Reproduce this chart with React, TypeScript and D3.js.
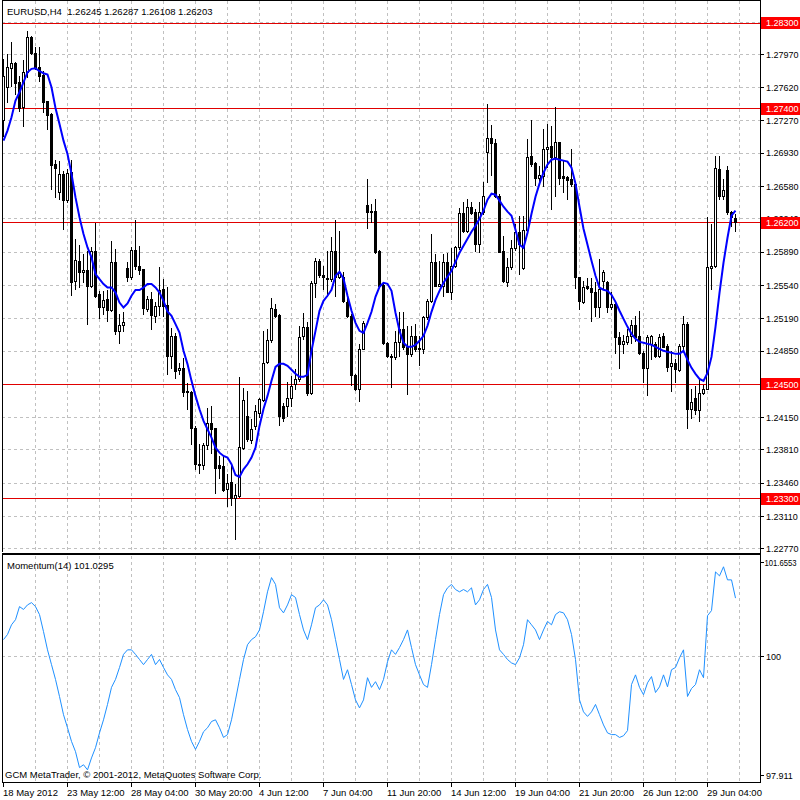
import React from 'react';
import * as d3 from 'd3';

const opens = [
  1.27284, 1.27624, 1.27828, 1.27877, 1.27684, 1.27414, 1.27789, 1.28151, 1.27986, 1.27835,
  1.27754, 1.27477, 1.27344, 1.26817, 1.26519, 1.26712, 1.26438, 1.26730, 1.25589, 1.25800,
  1.25677, 1.25701, 1.25537, 1.25905, 1.25449, 1.25309, 1.25396, 1.25280, 1.25789, 1.25063,
  1.25126, 1.25722, 1.25631, 1.25912, 1.25747, 1.25712, 1.25291, 1.25403, 1.25221, 1.25319,
  1.25501, 1.25337, 1.24800, 1.25010, 1.24649, 1.24677, 1.24431, 1.24421, 1.24045, 1.23666,
  1.23649, 1.23863, 1.24098, 1.24038, 1.23649, 1.23642, 1.23396, 1.23473, 1.23309, 1.23326,
  1.23835, 1.24165, 1.23912, 1.24063, 1.24200, 1.24337, 1.24737, 1.24965, 1.25291, 1.25228,
  1.24274, 1.24274, 1.24362, 1.24502, 1.24555, 1.25011, 1.25105, 1.24414, 1.25565, 1.25793,
  1.25653, 1.25614, 1.25607, 1.25905, 1.25625, 1.25625, 1.25369, 1.25221, 1.24597, 1.24449,
  1.24877, 1.26390, 1.26327, 1.26327, 1.25905, 1.25544, 1.24934, 1.24800, 1.24783, 1.24941,
  1.25081, 1.24888, 1.24818, 1.25011, 1.24881, 1.24870, 1.25204, 1.25372, 1.25790, 1.25537,
  1.25537, 1.25790, 1.25474, 1.25748, 1.25941, 1.26302, 1.26116, 1.26369, 1.26316, 1.25976,
  1.26309, 1.26941, 1.27091, 1.27039, 1.26484, 1.25905, 1.25572, 1.25730, 1.25930, 1.26105,
  1.25720, 1.26123, 1.26905, 1.26828, 1.26667, 1.26695, 1.26976, 1.27011, 1.26888, 1.27046,
  1.26688, 1.26684, 1.26660, 1.26607, 1.25625, 1.25362, 1.25537, 1.25509, 1.25467, 1.25309,
  1.25590, 1.25572, 1.25309, 1.25344, 1.24993, 1.24923, 1.24941, 1.25011, 1.25123, 1.25011,
  1.24835, 1.24667, 1.24923, 1.24923, 1.24800, 1.25011, 1.24905, 1.24695, 1.24730, 1.24653,
  1.24905, 1.25134, 1.24246, 1.24362, 1.24232, 1.24407, 1.24456, 1.25720, 1.25748, 1.26765,
  1.26484, 1.26758, 1.26309, 1.26245,
];

const highs = [
  1.27923, 1.27975, 1.28098, 1.27887, 1.27747, 1.27916, 1.28221, 1.28168, 1.28045, 1.28052,
  1.27800, 1.27484, 1.27351, 1.26859, 1.26852, 1.26747, 1.26765, 1.26859, 1.26028, 1.25968,
  1.25870, 1.25905, 1.25940, 1.26193, 1.25477, 1.25477, 1.25491, 1.26010, 1.25922, 1.25238,
  1.25256, 1.25782, 1.25947, 1.26228, 1.25958, 1.25712, 1.25431, 1.25473, 1.25368, 1.25737,
  1.25607, 1.25526, 1.25098, 1.25045, 1.24730, 1.24782, 1.24519, 1.24431, 1.24063, 1.23870,
  1.23887, 1.24256, 1.24273, 1.24045, 1.23747, 1.23747, 1.23554, 1.23642, 1.23456, 1.24579,
  1.24466, 1.24431, 1.24133, 1.24284, 1.24361, 1.25063, 1.25081, 1.25404, 1.25344, 1.25239,
  1.24309, 1.24520, 1.24590, 1.24660, 1.25116, 1.25249, 1.25151, 1.25590, 1.25825, 1.25818,
  1.25748, 1.25905, 1.26046, 1.26232, 1.26116, 1.25684, 1.25432, 1.25239, 1.24607, 1.24923,
  1.25169, 1.26660, 1.26397, 1.26449, 1.25912, 1.25572, 1.24941, 1.24818, 1.25063, 1.25256,
  1.25256, 1.25116, 1.25116, 1.25134, 1.25011, 1.25221, 1.25397, 1.26081, 1.25870, 1.25800,
  1.25870, 1.25881, 1.25930, 1.25958, 1.26351, 1.26414, 1.26449, 1.26421, 1.26344, 1.26414,
  1.26625, 1.27449, 1.27228, 1.27081, 1.26502, 1.26063, 1.25825, 1.26021, 1.26186, 1.26267,
  1.26274, 1.27081, 1.27284, 1.26835, 1.26800, 1.27186, 1.27239, 1.27221, 1.27414, 1.27053,
  1.26853, 1.26695, 1.26976, 1.26625, 1.25632, 1.25590, 1.25614, 1.25614, 1.25572, 1.25818,
  1.25705, 1.25590, 1.25467, 1.25355, 1.25046, 1.25018, 1.25081, 1.25179, 1.25221, 1.25274,
  1.24853, 1.25018, 1.25018, 1.24941, 1.25028, 1.25039, 1.24923, 1.24853, 1.24765, 1.24923,
  1.25221, 1.25158, 1.24449, 1.24484, 1.24555, 1.24491, 1.26256, 1.26186, 1.26905, 1.26905,
  1.26660, 1.26793, 1.26327, 1.26287,
];

const lows = [
  1.27116, 1.27466, 1.27642, 1.27554, 1.27379, 1.27221, 1.27730, 1.27975, 1.27817, 1.27694,
  1.27361, 1.27186, 1.26554, 1.26466, 1.26449, 1.26133, 1.26414, 1.25438, 1.25501, 1.25519,
  1.25572, 1.25140, 1.25526, 1.25414, 1.25193, 1.25245, 1.25168, 1.25273, 1.25028, 1.24940,
  1.25063, 1.25582, 1.25607, 1.25712, 1.25659, 1.25238, 1.25273, 1.25080, 1.25158, 1.25231,
  1.25221, 1.24607, 1.24677, 1.24572, 1.24607, 1.24379, 1.24238, 1.23870, 1.23607, 1.23572,
  1.23607, 1.23817, 1.23782, 1.23361, 1.23519, 1.23379, 1.23221, 1.23231, 1.22870, 1.23316,
  1.23817, 1.23905, 1.23887, 1.24032, 1.24158, 1.24327, 1.24730, 1.24941, 1.25204, 1.24074,
  1.24116, 1.24169, 1.24274, 1.24449, 1.24537, 1.24976, 1.24386, 1.24397, 1.25414, 1.25625,
  1.25502, 1.25432, 1.25590, 1.25432, 1.25614, 1.25362, 1.25204, 1.24491, 1.24442, 1.24327,
  1.24870, 1.26144, 1.26204, 1.25881, 1.25520, 1.24923, 1.24783, 1.24474, 1.24765, 1.24800,
  1.24870, 1.24397, 1.24800, 1.24853, 1.24702, 1.24828, 1.25186, 1.25362, 1.25530, 1.25530,
  1.25432, 1.25467, 1.25397, 1.25730, 1.25923, 1.26105, 1.26098, 1.26291, 1.25905, 1.25895,
  1.26291, 1.26625, 1.26702, 1.26467, 1.25888, 1.25572, 1.25537, 1.25712, 1.25916, 1.25660,
  1.25712, 1.26116, 1.26800, 1.26597, 1.26632, 1.26590, 1.26783, 1.26344, 1.26484, 1.26607,
  1.26520, 1.26449, 1.26590, 1.25509, 1.25291, 1.25355, 1.25502, 1.25169, 1.25221, 1.25204,
  1.25502, 1.25263, 1.25291, 1.24828, 1.24677, 1.24835, 1.24923, 1.24934, 1.24958, 1.24818,
  1.24527, 1.24386, 1.24765, 1.24783, 1.24783, 1.24888, 1.24642, 1.24432, 1.24520, 1.24642,
  1.24870, 1.24046, 1.24151, 1.24186, 1.24116, 1.24397, 1.24449, 1.25502, 1.25730, 1.26449,
  1.26449, 1.26291, 1.26169, 1.26108,
];

const closes = [
  1.27747, 1.27835, 1.27877, 1.27666, 1.27407, 1.27789, 1.28151, 1.27982, 1.27835, 1.27747,
  1.27466, 1.27333, 1.26810, 1.26775, 1.26712, 1.26438, 1.26719, 1.25572, 1.25810, 1.25677,
  1.25701, 1.25537, 1.25905, 1.25431, 1.25309, 1.25389, 1.25280, 1.25789, 1.25063, 1.25126,
  1.25158, 1.25631, 1.25912, 1.25740, 1.25705, 1.25301, 1.25403, 1.25228, 1.25319, 1.25491,
  1.25326, 1.24800, 1.25010, 1.24642, 1.24677, 1.24424, 1.24421, 1.24045, 1.23659, 1.23649,
  1.23863, 1.24098, 1.24028, 1.23624, 1.23624, 1.23386, 1.23466, 1.23309, 1.23337, 1.23842,
  1.24333, 1.23923, 1.24028, 1.24221, 1.24344, 1.24730, 1.24965, 1.25302, 1.25221, 1.24168,
  1.24147, 1.24362, 1.24484, 1.24555, 1.25000, 1.25105, 1.24414, 1.25565, 1.25793, 1.25653,
  1.25625, 1.25607, 1.25905, 1.25625, 1.25677, 1.25379, 1.25214, 1.24597, 1.24449, 1.24877,
  1.25141, 1.26309, 1.26309, 1.25895, 1.25537, 1.24934, 1.24800, 1.24783, 1.24941, 1.25081,
  1.24888, 1.24818, 1.25011, 1.24870, 1.24870, 1.25204, 1.25372, 1.25790, 1.25537, 1.25555,
  1.25790, 1.25474, 1.25748, 1.25941, 1.26302, 1.26116, 1.26369, 1.26302, 1.25976, 1.26309,
  1.26484, 1.27091, 1.27039, 1.26484, 1.25895, 1.25590, 1.25730, 1.25930, 1.26105, 1.25976,
  1.26123, 1.26895, 1.26818, 1.26667, 1.26705, 1.26976, 1.27000, 1.26888, 1.27046, 1.26667,
  1.26667, 1.26649, 1.26607, 1.25625, 1.25379, 1.25520, 1.25509, 1.25467, 1.25309, 1.25502,
  1.25684, 1.25309, 1.25344, 1.24993, 1.24923, 1.24951, 1.25011, 1.25123, 1.24993, 1.24835,
  1.24667, 1.24993, 1.25011, 1.24800, 1.24993, 1.24898, 1.24688, 1.24723, 1.24660, 1.24905,
  1.25134, 1.24246, 1.24316, 1.24232, 1.24407, 1.24456, 1.25730, 1.25748, 1.26772, 1.26484,
  1.26544, 1.26309, 1.26256, 1.26203,
];

const maValues = [
  1.27063, 1.27168, 1.27308, 1.27484, 1.27572, 1.27677, 1.27782, 1.27818, 1.27824, 1.27793,
  1.27772, 1.27758, 1.27624, 1.27407, 1.27239, 1.27063, 1.26923, 1.26713, 1.26466, 1.26256,
  1.26081, 1.25940, 1.25835, 1.25660, 1.25607, 1.25555, 1.25519, 1.25519, 1.25466, 1.25361,
  1.25308, 1.25351, 1.25432, 1.25492, 1.25492, 1.25519, 1.25555, 1.25555, 1.25519, 1.25466,
  1.25379, 1.25266, 1.25221, 1.25134, 1.25045, 1.24853, 1.24713, 1.24537, 1.24379, 1.24239,
  1.24116, 1.24028, 1.23940, 1.23835, 1.23782, 1.23747, 1.23730, 1.23660, 1.23547, 1.23526,
  1.23607, 1.23660, 1.23730, 1.23835, 1.24063, 1.24242, 1.24379, 1.24537, 1.24684, 1.24716,
  1.24716, 1.24695, 1.24653, 1.24611, 1.24579, 1.24579, 1.24600, 1.24853, 1.25063, 1.25274,
  1.25379, 1.25432, 1.25495, 1.25642, 1.25684, 1.25611, 1.25432, 1.25274, 1.25147, 1.25063,
  1.25042, 1.25147, 1.25263, 1.25421, 1.25526, 1.25568, 1.25558, 1.25484, 1.25253, 1.25063,
  1.24937, 1.24895, 1.24895, 1.24916, 1.24958, 1.25011, 1.25116, 1.25263, 1.25389, 1.25484,
  1.25568, 1.25632, 1.25695, 1.25789, 1.25884, 1.25958, 1.26032, 1.26105, 1.26168, 1.26242,
  1.26326, 1.26442, 1.26505, 1.26495, 1.26432, 1.26368, 1.26316, 1.26274, 1.26126, 1.25968,
  1.25937, 1.26095, 1.26295, 1.26474, 1.26611, 1.26726, 1.26811, 1.26863, 1.26874, 1.26863,
  1.26853, 1.26842, 1.26779, 1.26611, 1.26368, 1.26137, 1.25968, 1.25800, 1.25642, 1.25516,
  1.25495, 1.25484, 1.25442, 1.25368, 1.25274, 1.25189, 1.25105, 1.25032, 1.24979, 1.24947,
  1.24937, 1.24926, 1.24916, 1.24895, 1.24874, 1.24853, 1.24842, 1.24832, 1.24821, 1.24821,
  1.24853, 1.24758, 1.24674, 1.24611, 1.24558, 1.24537, 1.24621, 1.24789, 1.25105, 1.25463,
  1.25779, 1.26042, 1.26274, 1.26326,
];

const momentum = [
  100.30, 100.39, 100.56, 100.65, 100.88, 100.83, 100.91, 100.95, 100.88, 100.74,
  100.44, 100.12, 99.86, 99.60, 99.30, 98.98, 98.75, 98.51, 98.33, 98.05,
  98.10, 98.01, 98.22, 98.40, 98.66, 98.89, 99.16, 99.46, 99.60, 99.81,
  100.04, 100.12, 100.12, 100.04, 99.95, 99.86, 99.95, 100.04, 99.86, 99.95,
  99.81, 99.68, 99.60, 99.42, 99.28, 98.98, 98.72, 98.51, 98.37, 98.51,
  98.68, 98.75, 98.86, 98.89, 98.75, 98.58, 98.63, 98.89, 99.24, 99.60,
  99.95, 100.21, 100.30, 100.35, 100.47, 100.79, 101.14, 101.39, 101.27, 100.86,
  100.77, 100.91, 101.09, 101.04, 100.74, 100.47, 100.30, 100.56, 100.86, 100.91,
  101.00, 100.91, 100.65, 100.30, 99.95, 99.60, 99.77, 99.51, 99.24, 99.10,
  99.24, 99.63, 99.46, 99.56, 99.42, 99.60, 99.91, 100.12, 100.04, 100.16,
  100.30, 100.47, 100.16, 99.86, 99.68, 99.51, 99.46, 99.86, 100.30, 100.74,
  101.09, 101.21, 101.27, 101.18, 101.14, 101.18, 101.14, 101.21, 100.91, 101.00,
  101.18, 101.27, 101.04, 100.47, 100.12, 100.04, 99.95, 99.89, 99.86, 99.98,
  100.21, 100.65, 100.56, 100.47, 100.30, 100.47, 100.62, 100.56, 100.74, 100.79,
  100.77, 100.65, 100.39, 99.95, 99.24, 99.03, 98.95, 99.03, 99.16, 98.98,
  98.80, 98.66, 98.63, 98.63, 98.58, 98.61, 98.70, 99.51, 99.68, 99.46,
  99.33, 99.54, 99.65, 99.37, 99.47, 99.68, 99.47, 99.77, 99.81, 99.98,
  100.12, 99.30, 99.44, 99.51, 99.77, 99.63, 100.72, 100.81, 101.49, 101.42,
  101.58, 101.35, 101.35, 101.0295,
];

const timeLabels = [
  '18 May 2012', '23 May 12:00', '28 May 04:00', '30 May 20:00', '4 Jun 12:00', '7 Jun 04:00',
  '11 Jun 20:00', '14 Jun 12:00', '19 Jun 04:00', '21 Jun 20:00', '26 Jun 12:00', '29 Jun 04:00',
];
const timeLabelBars = [0, 16, 32, 48, 64, 80, 96, 112, 128, 144, 160, 176];

const priceTicks = [
  1.2831, 1.2797, 1.2762, 1.2727, 1.2693, 1.2658, 1.2624, 1.2589, 1.2554, 1.2519,
  1.2485, 1.245, 1.2415, 1.2381, 1.2346, 1.2311, 1.2277,
];
// tick labels fully hidden under a level label are not printed
const hiddenTickLabels = [1.2831, 1.245];
const levelLines = [1.283, 1.274, 1.262, 1.245, 1.233];
const momTicks = [101.6553, 100, 97.911];
const momTickLabels = ['101.6553', '100', '97.911'];

const title = 'EURUSD,H4  1.26245 1.26287 1.26108 1.26203';
const momTitle = 'Momentum(14) 101.0295';
const copyright = 'GCM MetaTrader, \u00A9 2001-2012, MetaQuotes Software Corp.';

const FONT = "'Liberation Sans', Arial, sans-serif";

export default function App() {
  const left = 2;
  const right = 760;
  const mainTop = 0;
  const mainBottom = 552;
  const momTop = 555;
  const momBottom = 782;

  const n = closes.length;
  const x = d3.scaleLinear().domain([0, n - 1]).range([3.5, 3.5 + 4 * (n - 1)]);
  const y = d3.scaleLinear().domain([1.283, 1.233]).range([23, 498.5]);
  const ym = d3.scaleLinear().domain([97.911, 101.6553]).range([775.5, 562.5]);

  const snap = (v: number) => Math.round(v - 0.5) + 0.5;

  const maPath = d3.line<number>().x((_, i) => x(i)).y((d) => y(d))(maValues) || '';
  const momPath = d3.line<number>().x((_, i) => x(i)).y((d) => ym(d))(momentum) || '';

  const vGrid = d3.range(8, n + 1, 8);

  return (
    <svg
      width={800}
      height={800}
      style={{ position: 'absolute', left: 0, top: 0, display: 'block' }}
      fontFamily={FONT}
      fontSize={9.5}
    >
      <rect x={0} y={0} width={800} height={800} fill="#ffffff" />

      {/* vertical grid */}
      {vGrid.map((b) => (
        <g key={'vg' + b}>
          <line x1={snap(x(b))} x2={snap(x(b))} y1={mainTop + 1} y2={mainBottom} stroke="#c0c0c0" strokeDasharray="3,3" />
          <line x1={snap(x(b))} x2={snap(x(b))} y1={momTop + 1} y2={momBottom} stroke="#c0c0c0" strokeDasharray="3,3" />
        </g>
      ))}
      {/* horizontal grid */}
      {priceTicks.map((t) => (
        <line key={'hg' + t} x1={left} x2={right} y1={snap(y(t))} y2={snap(y(t))} stroke="#c0c0c0" strokeDasharray="3,3" />
      ))}
      <line x1={left} x2={right} y1={snap(ym(100))} y2={snap(ym(100))} stroke="#c0c0c0" strokeDasharray="3,3" />

      {/* level lines */}
      {levelLines.map((l) => (
        <line key={'lv' + l} x1={left} x2={right} y1={snap(y(l))} y2={snap(y(l))} stroke="#e00000" strokeWidth={1} />
      ))}

      {/* candles */}
      {closes.map((c, i) => {
        const o = opens[i];
        const xc = snap(x(i));
        const yO = Math.round(y(o));
        const yC = Math.round(y(c));
        const top = Math.min(yO, yC);
        const h = Math.abs(yO - yC);
        const bull = c >= o;
        return (
          <g key={'c' + i}>
            <line x1={xc} x2={xc} y1={Math.round(y(highs[i]))} y2={Math.round(y(lows[i])) + 1} stroke="#000" strokeWidth={1} />
            {h > 0 ? (
              <rect x={xc - 1} y={top + 0.5} width={2} height={h} fill={bull ? '#ffffff' : '#000000'} stroke="#000" strokeWidth={1} />
            ) : (
              <line x1={xc - 1.5} x2={xc + 1.5} y1={top + 0.5} y2={top + 0.5} stroke="#000" strokeWidth={1} />
            )}
          </g>
        );
      })}

      {/* moving average */}
      <path d={maPath} fill="none" stroke="#0000ff" strokeWidth={2} />

      {/* momentum */}
      <path d={momPath} fill="none" stroke="#1e90ff" strokeWidth={1} />

      {/* frames */}
      <line x1={left + 0.5} x2={left + 0.5} y1={0} y2={mainBottom} stroke="#000" />
      <line x1={left + 0.5} x2={left + 0.5} y1={momTop} y2={momBottom} stroke="#000" />
      <line x1={left} x2={right + 1} y1={0.5} y2={0.5} stroke="#000" />
      <rect x={left} y={mainBottom + 1} width={right - left + 1} height={2} fill="#000" />
      <line x1={left} x2={right + 1} y1={momBottom + 0.5} y2={momBottom + 0.5} stroke="#000" />
      <line x1={right + 0.5} x2={right + 0.5} y1={0} y2={momBottom + 1} stroke="#000" />

      {/* price axis */}
      {priceTicks.map((t) => (
        <g key={'pt' + t}>
          <line x1={right + 1} x2={right + 4} y1={snap(y(t))} y2={snap(y(t))} stroke="#000" />
          {hiddenTickLabels.includes(t) ? null : (
            <text x={766} y={y(t) + 3.2} fill="#000" fontSize={9}>{t.toFixed(5)}</text>
          )}
        </g>
      ))}
      {levelLines.map((l) => (
        <g key={'ll' + l}>
          <rect x={761} y={Math.round(y(l)) - 6} width={39} height={12} fill="#ff0000" />
          <text x={766} y={y(l) + 3.2} fill="#ffffff" fontSize={9}>{l.toFixed(5)}</text>
        </g>
      ))}

      {/* momentum axis */}
      {momTicks.map((t, k) => (
        <g key={'mt' + t}>
          <line x1={right + 1} x2={right + 4} y1={snap(ym(t))} y2={snap(ym(t))} stroke="#000" />
          <text
            x={k === 0 ? 764.5 : 766}
            y={ym(t) + 3.2}
            fill="#000"
            fontSize={9}
            {...(k === 0 ? { textLength: 32, lengthAdjust: 'spacingAndGlyphs' } : {})}
          >
            {momTickLabels[k]}
          </text>
        </g>
      ))}

      {/* time axis */}
      {timeLabelBars.map((b, k) => (
        <g key={'tl' + b}>
          <line x1={snap(x(b))} x2={snap(x(b))} y1={momBottom + 1} y2={momBottom + 5} stroke="#000" />
          <text x={x(b) - 0.5} y={796} fill="#000">{timeLabels[k]}</text>
        </g>
      ))}

      {/* texts */}
      <text x={7} y={15} fill="#000" style={{ whiteSpace: 'pre' }}>{title}</text>
      <text x={7} y={569} fill="#000">{momTitle}</text>
      <text x={5} y={778} fill="#000">{copyright}</text>
    </svg>
  );
}
